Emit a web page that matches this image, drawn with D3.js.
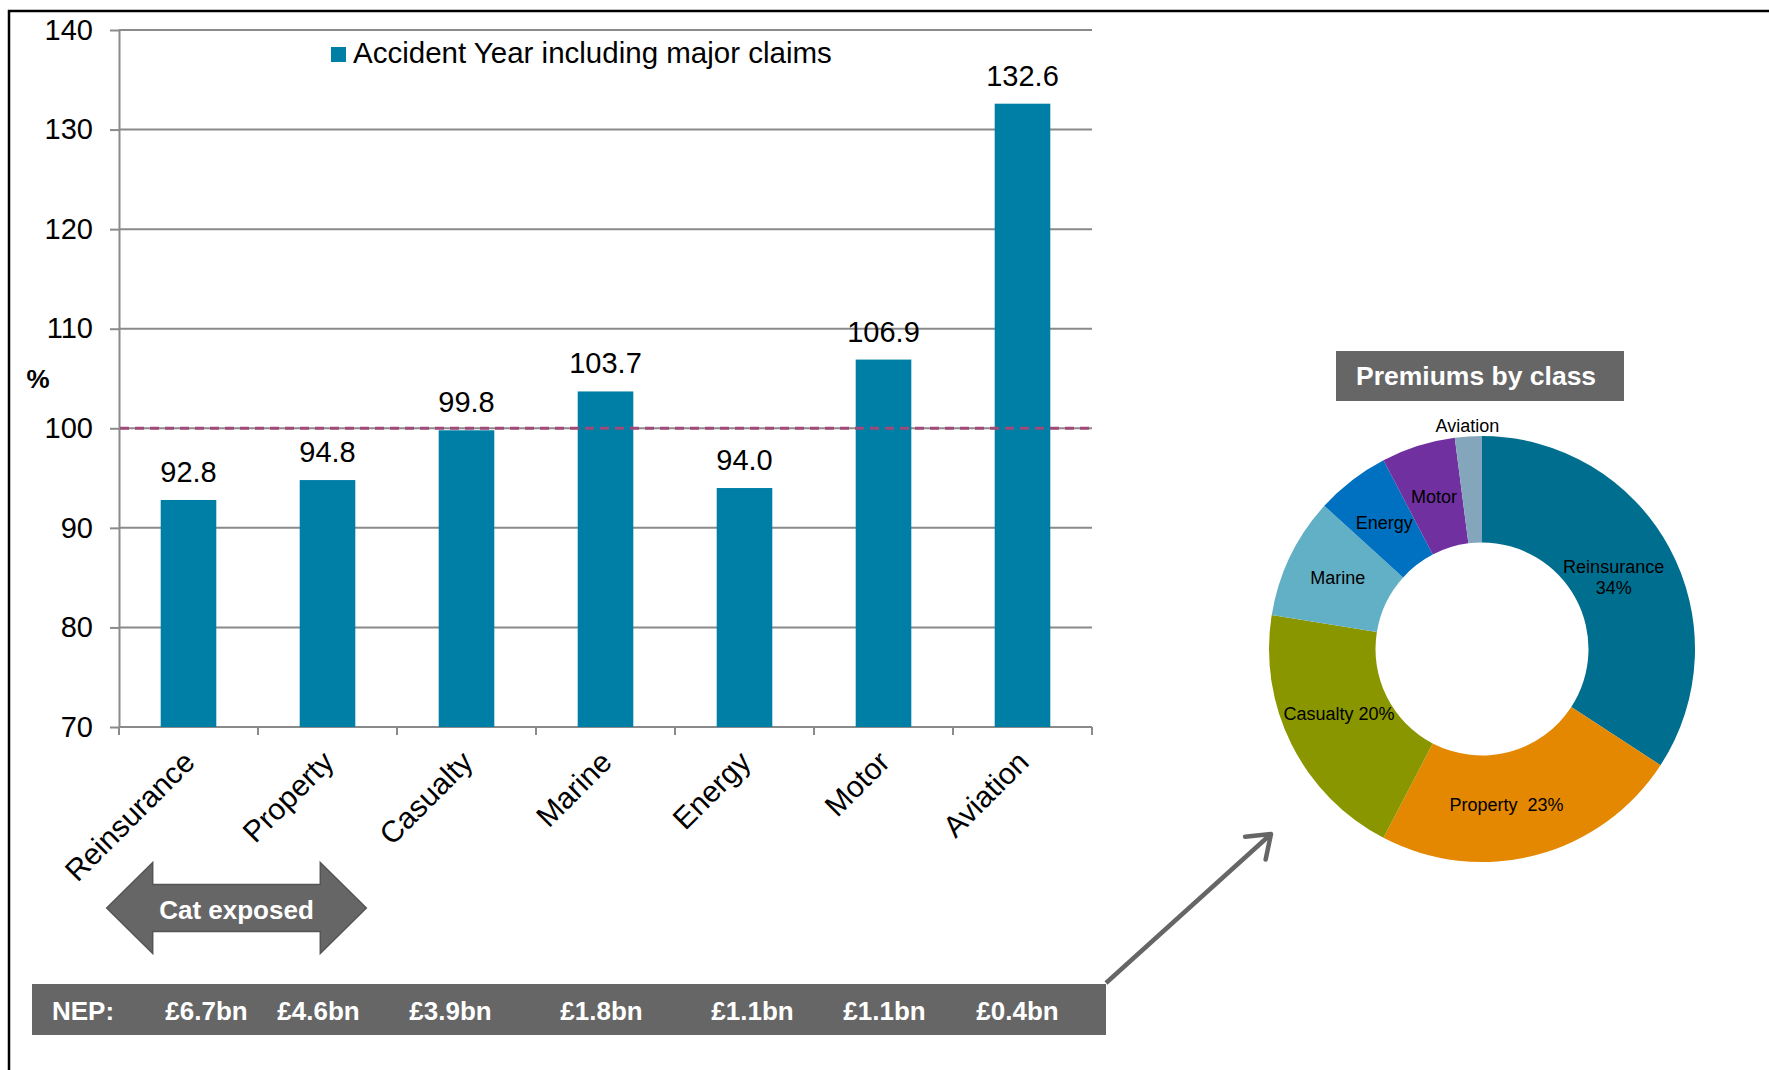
<!DOCTYPE html>
<html>
<head>
<meta charset="utf-8">
<script src="https://cdn.jsdelivr.net/npm/d3@7"></script>
<style>
  body { margin: 0; background: #fff; }
  svg { display: block; }
  text { font-family: "Liberation Sans", Arial, Helvetica, sans-serif; }
</style>
</head>
<body>
<svg id="chart" width="1769" height="1070"></svg>
<script>
// ---- data ----
const categories = ["Reinsurance", "Property", "Casualty", "Marine", "Energy", "Motor", "Aviation"];
const combinedRatio = [92.8, 94.8, 99.8, 103.7, 94.0, 106.9, 132.6];   // accident year incl. major claims, %
const nepBn = [6.7, 4.6, 3.9, 1.8, 1.1, 1.1, 0.4];                      // net earned premium, £bn
const yTicks = [70, 80, 90, 100, 110, 120, 130, 140];
const breakEven = 100;
const seriesName = "Accident Year including major claims";
const catExposed = ["Reinsurance", "Property"];
const pieTitle = "Premiums by class";
const pieColors = ["#006F8F", "#E38800", "#8A9600", "#62B0C6", "#0070C0", "#7030A0", "#84A6BC"];

// ---- layout ----
const W = 1769, H = 1070;
const plot = { left: 119, right: 1092, top: 30, bottom: 727 };
const barColor = "#007FA6";
const gridColor = "#8a8a8a";
const panelGrey = "#666666";

const svg = d3.select("#chart");

// frame lines along top and left
svg.append("path")
  .attr("d", `M9,${H} V11 H${W}`)
  .attr("fill", "none").attr("stroke", "#000").attr("stroke-width", 2.5);

const x = d3.scaleBand().domain(categories)
  .range([plot.left, plot.right]).paddingInner(0.6).paddingOuter(0.3);
const y = d3.scaleLinear().domain([70, 140]).range([plot.bottom, plot.top]);

// gridlines
svg.append("g").selectAll("line").data(yTicks.filter(t => t > 70)).join("line")
  .attr("x1", plot.left).attr("x2", plot.right)
  .attr("y1", d => y(d)).attr("y2", d => y(d))
  .attr("stroke", gridColor).attr("stroke-width", 2);

// y axis
const gY = svg.append("g").attr("transform", `translate(${plot.left},0)`)
  .call(d3.axisLeft(y).tickValues(yTicks).tickSize(9).tickSizeOuter(0).tickPadding(17));
gY.select(".domain").attr("stroke", gridColor).attr("stroke-width", 2);
gY.selectAll(".tick line").attr("stroke", gridColor).attr("stroke-width", 2);
gY.selectAll(".tick text").attr("font-size", 29).attr("fill", "#000")
  .style("font-family", "'Liberation Sans', Arial, sans-serif");

svg.append("text").attr("x", 38).attr("y", 388).attr("text-anchor", "middle")
  .attr("font-size", 26).attr("font-weight", "bold").text("%");

// x axis baseline with ticks between categories
const step = x.step();
svg.append("line").attr("x1", plot.left).attr("x2", plot.right)
  .attr("y1", plot.bottom).attr("y2", plot.bottom)
  .attr("stroke", gridColor).attr("stroke-width", 2);
svg.append("g").selectAll("line").data(d3.range(categories.length + 1)).join("line")
  .attr("x1", i => plot.left + i * step).attr("x2", i => plot.left + i * step)
  .attr("y1", plot.bottom).attr("y2", plot.bottom + 8)
  .attr("stroke", gridColor).attr("stroke-width", 2);

// category labels, rotated
svg.append("g").selectAll("text").data(categories).join("text")
  .attr("transform", d => `translate(${x(d) + x.bandwidth() / 2 + 8},${plot.bottom + 37}) rotate(-45)`)
  .attr("text-anchor", "end").attr("font-size", 30).attr("fill", "#000")
  .text(d => d);

// bars
const bars = categories.map((c, i) => ({ c, v: combinedRatio[i] }));
svg.append("g").selectAll("rect").data(bars).join("rect")
  .attr("x", d => x(d.c)).attr("width", x.bandwidth())
  .attr("y", d => y(d.v)).attr("height", d => y(70) - y(d.v))
  .attr("fill", barColor);

// value labels
svg.append("g").selectAll("text").data(bars).join("text")
  .attr("x", d => x(d.c) + x.bandwidth() / 2).attr("y", d => y(d.v) - 18)
  .attr("text-anchor", "middle").attr("font-size", 29).attr("fill", "#000")
  .text(d => d3.format(".1f")(d.v));

// 100% break-even reference
svg.append("line")
  .attr("x1", plot.left + 1).attr("x2", plot.right)
  .attr("y1", y(breakEven)).attr("y2", y(breakEven))
  .attr("stroke", "#A04A7A").attr("stroke-width", 3).attr("stroke-dasharray", "9,6");

// legend
svg.append("rect").attr("x", 331).attr("y", 47).attr("width", 15).attr("height", 15).attr("fill", barColor);
svg.append("text").attr("x", 353).attr("y", 63).attr("font-size", 29.5).attr("fill", "#000").text(seriesName);

// "Cat exposed" double arrow under the first two classes
const ax0 = x(catExposed[0]) - 54, ax1 = x(catExposed[1]) + x.bandwidth() + 11;
const head = 46, ayc = 908, aHalf = 45.5, sHalf = 23.5;
const arrowPts = [
  [ax0, ayc], [ax0 + head, ayc - aHalf], [ax0 + head, ayc - sHalf], [ax1 - head, ayc - sHalf],
  [ax1 - head, ayc - aHalf], [ax1, ayc], [ax1 - head, ayc + aHalf], [ax1 - head, ayc + sHalf],
  [ax0 + head, ayc + sHalf], [ax0 + head, ayc + aHalf]
];
svg.append("polygon").attr("points", arrowPts.map(p => p.join(",")).join(" "))
  .attr("fill", panelGrey).attr("stroke", "#555").attr("stroke-width", 1.5);
svg.append("text").attr("x", (ax0 + ax1) / 2).attr("y", 919).attr("text-anchor", "middle")
  .attr("font-size", 26).attr("font-weight", "bold").attr("fill", "#fff").text("Cat exposed");

// NEP strip
const nepBox = { x: 32, y: 984, w: 1074, h: 51 };
svg.append("rect").attr("x", nepBox.x).attr("y", nepBox.y).attr("width", nepBox.w).attr("height", nepBox.h)
  .attr("fill", panelGrey);
svg.append("text").attr("x", 52).attr("y", 1020).attr("font-size", 26).attr("font-weight", "bold")
  .attr("fill", "#fff").text("NEP:");
const nepNudge = [18, -9, -16, -4, 8, 1, -5];
svg.append("g").selectAll("text").data(categories).join("text")
  .attr("x", (c, i) => x(c) + x.bandwidth() / 2 + nepNudge[i]).attr("y", 1020)
  .attr("text-anchor", "middle").attr("font-size", 26).attr("font-weight", "bold").attr("fill", "#fff")
  .text((c, i) => "£" + d3.format(".1f")(nepBn[i]) + "bn");

// connector arrow from the NEP strip to the donut
const p0 = [nepBox.x + nepBox.w, nepBox.y - 1], p1 = [1271, 834];
svg.append("line").attr("x1", p0[0]).attr("y1", p0[1]).attr("x2", p1[0]).attr("y2", p1[1])
  .attr("stroke", panelGrey).attr("stroke-width", 4.5);
{
  const ang = Math.atan2(p1[1] - p0[1], p1[0] - p0[0]) + Math.PI;
  const len = 26, spread = 36 * Math.PI / 180;
  const a = [p1[0] + len * Math.cos(ang + spread), p1[1] + len * Math.sin(ang + spread)];
  const b = [p1[0] + len * Math.cos(ang - spread), p1[1] + len * Math.sin(ang - spread)];
  svg.append("polyline").attr("points", [a, p1, b].map(p => p.join(",")).join(" "))
    .attr("fill", "none").attr("stroke", panelGrey).attr("stroke-width", 4.5)
    .attr("stroke-linecap", "round").attr("stroke-linejoin", "round");
}

// ---- donut: premiums by class ----
const pc = { x: 1482, y: 649 }, rOut = 213, rIn = 106.5;
svg.append("rect").attr("x", 1336).attr("y", 351).attr("width", 288).attr("height", 50).attr("fill", panelGrey);
svg.append("text").attr("x", 1356).attr("y", 385).attr("font-size", 26.5).attr("font-weight", "bold")
  .attr("fill", "#fff").text(pieTitle);

const total = d3.sum(nepBn);
const slices = d3.pie().sort(null).value(d => d.v)(categories.map((c, i) => ({ c, v: nepBn[i] })));
const arc = d3.arc().innerRadius(rIn).outerRadius(rOut);
const gPie = svg.append("g").attr("transform", `translate(${pc.x},${pc.y})`);
gPie.selectAll("path").data(slices).join("path")
  .attr("d", arc).attr("fill", (d, i) => pieColors[i]);

const pct = d => Math.round(d.data.v / total * 100) + "%";
const labelArc = d3.arc().innerRadius(160).outerRadius(160);
const outerArc = d3.arc().innerRadius(227).outerRadius(227);
const labelNudge = {
  "Reinsurance": [-9, 3], "Property": [-16, 0], "Casualty": [0, -8],
  "Marine": [0, -3], "Aviation": [0, 3]
};
slices.forEach((s, i) => {
  const name = s.data.c;
  const small = (s.endAngle - s.startAngle) < 0.2;
  let [cx, cy] = (small ? outerArc : labelArc).centroid(s);
  const n = labelNudge[name] || [0, 0];
  cx += n[0]; cy += n[1];
  const t = gPie.append("text").attr("text-anchor", "middle").attr("font-size", 18).attr("fill", "#000")
    .style("white-space", "pre");
  if (name === "Reinsurance") {
    t.append("tspan").attr("x", cx).attr("y", cy - 3).text(name);
    t.append("tspan").attr("x", cx).attr("y", cy + 18).text(pct(s));
  } else if (name === "Property") {
    t.attr("x", cx).attr("y", cy + 7).text(name + "  " + pct(s));
  } else if (name === "Casualty") {
    t.attr("x", cx).attr("y", cy + 7).text(name + " " + pct(s));
  } else {
    t.attr("x", cx).attr("y", cy + 7).text(name);
  }
});
</script>
</body>
</html>
